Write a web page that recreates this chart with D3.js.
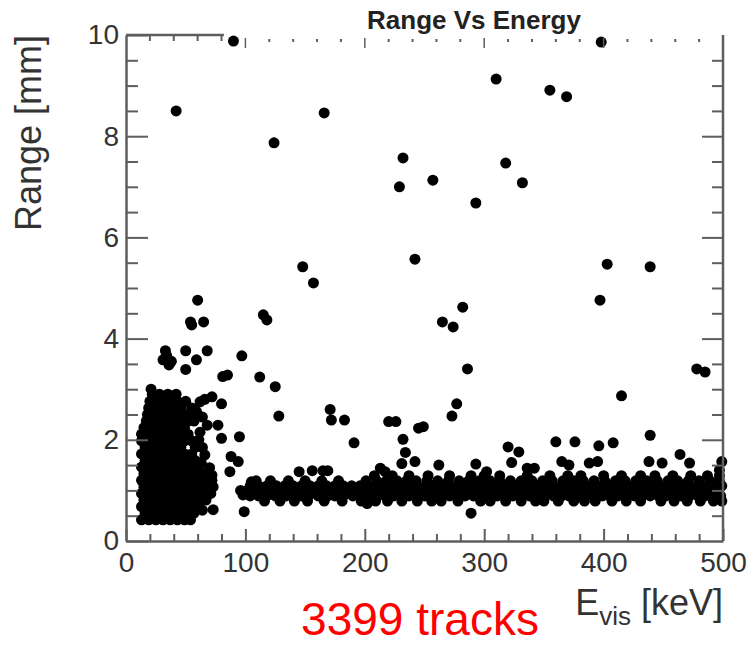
<!DOCTYPE html>
<meta charset="utf-8">
<title>Range Vs Energy</title>
<style>
  body { margin: 0; background: #fff; }
  text { font-family: "Liberation Sans", Arial, Helvetica, sans-serif; }
</style>
<body>
<script src="https://cdn.jsdelivr.net/npm/d3@7"></script>
<script>

var width = 751;
var height = 645;

// axis ticks (keV and mm)
var xTicks = [0, 100, 200, 300, 400, 500];
var yTicks = [0, 2, 4, 6, 8, 10];

// dense low-energy blob, read row by row: [range, [energies]]
var clusterRows = [
  [0.42, [13, 19, 25, 31, 37, 43, 49, 54]],
  [0.55, [16, 22, 28, 34, 40, 46, 52, 57]],
  [0.68, [13, 19, 25, 31, 37, 43, 49, 55, 60]],
  [0.81, [15, 21, 27, 33, 39, 45, 51, 57, 63, 67]],
  [0.94, [13, 19, 25, 31, 37, 43, 49, 55, 61, 67, 71]],
  [1.07, [15, 21, 27, 33, 39, 45, 51, 57, 63, 69, 73]],
  [1.20, [13, 19, 25, 31, 37, 43, 49, 55, 61, 67, 72]],
  [1.33, [15, 21, 27, 33, 39, 45, 51, 57, 63, 67]],
  [1.46, [13, 19, 25, 31, 37, 43, 49, 55, 61]],
  [1.59, [16, 22, 28, 34, 40, 46, 52, 58]],
  [1.72, [13, 19, 25, 31, 37, 43, 49, 55]],
  [1.85, [16, 22, 28, 34, 40, 46, 58]],
  [1.98, [13, 19, 25, 31, 37, 43, 49, 55]],
  [2.11, [13, 16, 22, 28, 34, 40, 46, 52]],
  [2.24, [15, 19, 25, 31, 37, 43, 49]],
  [2.37, [17, 22, 28, 34, 40, 46, 52, 57]],
  [2.50, [18, 25, 31, 37, 43, 49, 53]],
  [2.63, [19, 22, 28, 34, 40, 46, 55]],
  [2.76, [20, 25, 31, 37, 43, 50]],
  [2.90, [22, 28, 35, 42]]
];

// the ~1 mm band from 100 to 500 keV
var bandRows = [
  [0.79, [116, 129, 141, 152, 166, 181, 197, 209, 219, 231, 244, 256, 264, 278, 297, 305, 318, 331, 343, 350, 362, 375, 384, 393, 407, 419, 431, 448, 459, 470, 481, 492, 499]],
  [0.89, [104, 111, 118, 125, 134, 140, 147, 153, 161, 169, 175, 182, 190, 197, 204, 211, 217, 224, 231, 237, 244, 250, 257, 263, 271, 277, 284, 291, 298, 304, 311, 318, 324, 331, 338, 345, 351, 358, 365, 371, 379, 385, 392, 399, 405, 412, 419, 426, 432, 439, 446, 452, 459, 465, 472, 479, 485, 492, 498]],
  [0.99, [101, 108, 115, 122, 129, 137, 144, 150, 157, 165, 172, 179, 186, 193, 200, 207, 214, 221, 228, 234, 241, 247, 254, 260, 267, 274, 281, 288, 294, 301, 308, 314, 321, 328, 334, 341, 348, 355, 361, 368, 375, 382, 388, 395, 402, 409, 415, 422, 429, 435, 442, 449, 456, 462, 468, 475, 482, 489, 495]],
  [1.09, [104, 111, 118, 126, 133, 140, 147, 154, 161, 168, 175, 182, 189, 196, 203, 210, 217, 224, 231, 237, 244, 251, 257, 264, 271, 278, 284, 291, 298, 305, 311, 318, 324, 331, 338, 345, 351, 358, 365, 372, 378, 385, 392, 399, 405, 412, 419, 425, 432, 439, 446, 452, 459, 466, 472, 479, 486, 492, 499]],
  [1.19, [109, 121, 136, 150, 164, 178, 201, 210, 218, 227, 235, 243, 252, 261, 270, 279, 287, 296, 305, 313, 322, 331, 340, 349, 357, 366, 375, 383, 392, 401, 410, 418, 427, 436, 445, 454, 462, 471, 480, 489, 497]],
  [1.29, [208, 223, 237, 253, 271, 289, 300, 313, 336, 355, 370, 381, 400, 415, 431, 443, 458, 473, 487, 497]]
];

// single tracks outside the two dense regions: [energy, range]
var scattered = [
  [90, 9.88], [42, 8.5], [166, 8.46], [124, 7.87], [232, 7.57], [229, 7.0],
  [242, 5.57], [148, 5.42], [157, 5.1], [398, 9.86], [310, 9.13], [355, 8.91],
  [369, 8.78], [257, 7.13], [318, 7.47], [332, 7.08], [293, 6.68], [403, 5.47],
  [439, 5.42], [397, 4.76], [282, 4.62], [265, 4.33], [274, 4.23], [286, 3.4],
  [478, 3.4], [485, 3.34], [415, 2.87], [277, 2.71], [273, 2.47], [439, 2.09],
  [220, 2.36], [226, 2.36], [232, 2.01], [245, 2.23], [249, 2.26], [320, 1.86],
  [329, 1.76], [360, 1.96], [376, 1.96], [396, 1.88], [408, 1.94], [289, 0.55],
  [293, 1.52], [118, 4.37], [115, 4.47], [60, 4.76], [54, 4.33], [55, 4.27],
  [65, 4.33], [97, 3.66], [81, 3.25], [85, 3.28], [112, 3.24], [125, 3.05],
  [128, 2.47], [171, 2.6], [172, 2.39], [183, 2.39], [191, 1.94], [33, 3.76],
  [31, 3.58], [36, 3.48], [34, 3.67], [38, 3.55], [50, 3.76], [59, 3.58],
  [50, 3.39], [68, 3.76], [21, 3.0], [64, 0.61], [73, 0.62], [99, 0.58],
  [62, 2.75], [66, 2.8], [72, 2.85], [80, 2.71], [59, 2.56], [64, 2.45],
  [68, 2.29], [77, 2.29], [80, 2.03], [95, 2.06], [62, 2.15], [61, 2.0],
  [64, 1.85], [66, 1.7], [63, 1.55], [70, 1.45], [72, 1.3], [88, 1.67],
  [94, 1.57], [87, 1.37], [98, 0.91], [96, 1.0], [105, 1.17], [100, 0.95],
  [145, 1.37], [156, 1.39], [165, 1.39], [169, 1.39], [213, 1.44], [217, 1.37],
  [234, 1.75], [231, 1.53], [242, 1.57], [262, 1.5], [302, 1.37], [323, 1.55],
  [336, 1.44], [342, 1.44], [365, 1.57], [371, 1.5], [388, 1.54], [395, 1.57],
  [438, 1.57], [449, 1.54], [464, 1.71], [472, 1.54], [497, 1.4], [499, 1.57],
  [202, 0.74]
];

var axisColor = "#5e5e5e";
var textColor = "#333";

var x = d3.scaleLinear().domain([0, 500]).range([126, 723]);
var y = d3.scaleLinear().domain([0, 10]).range([541, 35]);

var svg = d3.select("body")
  .append("svg")
  .attr("width", width)
  .attr("height", height)
  .style("background", "#fff");

// points
var points = [];
clusterRows.concat(bandRows).forEach(function(row) {
  row[1].forEach(function(e) { points.push([e, row[0]]); });
});
points = points.concat(scattered);

svg.append("g")
  .selectAll("circle")
  .data(points)
  .enter().append("circle")
  .attr("cx", function(d) { return x(d[0]); })
  .attr("cy", function(d) { return y(d[1]); })
  .attr("r", 5.5)
  .attr("fill", "#000");

// minor tick positions
var xMinor = d3.range(0, 501, 20).filter(function(v) { return v % 100 !== 0; });
var yMinor = d3.range(0, 10.01, 0.5).filter(function(v) { return v % 2 !== 0; });

function styleAxis(g) {
  g.selectAll("path.domain").attr("stroke", axisColor).attr("stroke-width", 2.5);
  g.selectAll(".tick line").attr("stroke", axisColor).attr("stroke-width", 2);
  g.selectAll(".tick text")
    .attr("fill", textColor)
    .style("font-size", "28px");
}

// left axis, ticks pointing inwards
svg.append("g")
  .attr("transform", "translate(126,0)")
  .call(d3.axisLeft(y).tickValues(yMinor).tickSizeInner(-12).tickSizeOuter(0).tickFormat(""))
  .call(function(g) { g.select(".domain").remove(); })
  .call(styleAxis);
svg.append("g")
  .attr("transform", "translate(126,0)")
  .call(d3.axisLeft(y).tickValues(yTicks).tickSizeInner(-22).tickSizeOuter(0).tickPadding(7))
  .call(styleAxis);

// right axis
svg.append("g")
  .attr("transform", "translate(723,0)")
  .call(d3.axisRight(y).tickValues(yMinor).tickSizeInner(-11).tickSizeOuter(0).tickFormat(""))
  .call(function(g) { g.select(".domain").remove(); })
  .call(styleAxis);
svg.append("g")
  .attr("transform", "translate(723,0)")
  .call(d3.axisRight(y).tickValues(yTicks.slice(1, 5)).tickSizeInner(-21).tickSizeOuter(0).tickFormat(""))
  .call(function(g) { g.select(".domain").attr("d", "M0," + y(10) + "V" + y(0)); })
  .call(styleAxis);

// bottom axis
svg.append("g")
  .attr("transform", "translate(0,541)")
  .call(d3.axisBottom(x).tickValues(xMinor).tickSizeInner(-7).tickSizeOuter(0).tickFormat(""))
  .call(function(g) { g.select(".domain").remove(); })
  .call(styleAxis);
svg.append("g")
  .attr("transform", "translate(0,541)")
  .call(d3.axisBottom(x).tickValues(xTicks).tickSizeInner(-12).tickSizeOuter(0).tickPadding(11))
  .call(styleAxis);

// top axis: the line only survives near the origin, the rest is ticks
var topAxis = svg.append("g").attr("stroke", axisColor);
topAxis.append("line")
  .attr("x1", x(0)).attr("x2", x(82))
  .attr("y1", 35).attr("y2", 35)
  .attr("stroke-width", 2.5);
topAxis.selectAll("line.minor")
  .data(xMinor)
  .enter().append("line")
  .attr("class", "minor")
  .attr("x1", function(d) { return x(d); })
  .attr("x2", function(d) { return x(d); })
  .attr("y1", function(d) { return d < 82 ? 35 : 39; })
  .attr("y2", function(d) { return d < 82 ? 41 : 42; })
  .attr("stroke-width", 2);
topAxis.selectAll("line.major")
  .data(xTicks.slice(1, 5))
  .enter().append("line")
  .attr("class", "major")
  .attr("x1", function(d) { return x(d); })
  .attr("x2", function(d) { return x(d); })
  .attr("y1", 38).attr("y2", 48)
  .attr("stroke-width", 1.5);

// titles
svg.append("text")
  .attr("x", 474).attr("y", 29)
  .attr("text-anchor", "middle")
  .attr("fill", "#222")
  .style("font-size", "26px")
  .style("font-weight", "bold")
  .text("Range Vs Energy");

svg.append("text")
  .attr("transform", "translate(41,133) rotate(-90)")
  .attr("text-anchor", "middle")
  .attr("fill", textColor)
  .style("font-size", "36px")
  .text("Range [mm]");

var xt = svg.append("text")
  .attr("x", 723).attr("y", 615)
  .attr("text-anchor", "end")
  .attr("fill", textColor)
  .style("font-size", "36px");
xt.append("tspan").text("E");
xt.append("tspan").attr("dy", 10).style("font-size", "26px").text("vis");
xt.append("tspan").attr("dy", -10).text(" [keV]");

svg.append("text")
  .attr("x", 420).attr("y", 635)
  .attr("text-anchor", "middle")
  .attr("fill", "#ff0000")
  .style("font-size", "46px")
  .text("3399 tracks");

</script>
